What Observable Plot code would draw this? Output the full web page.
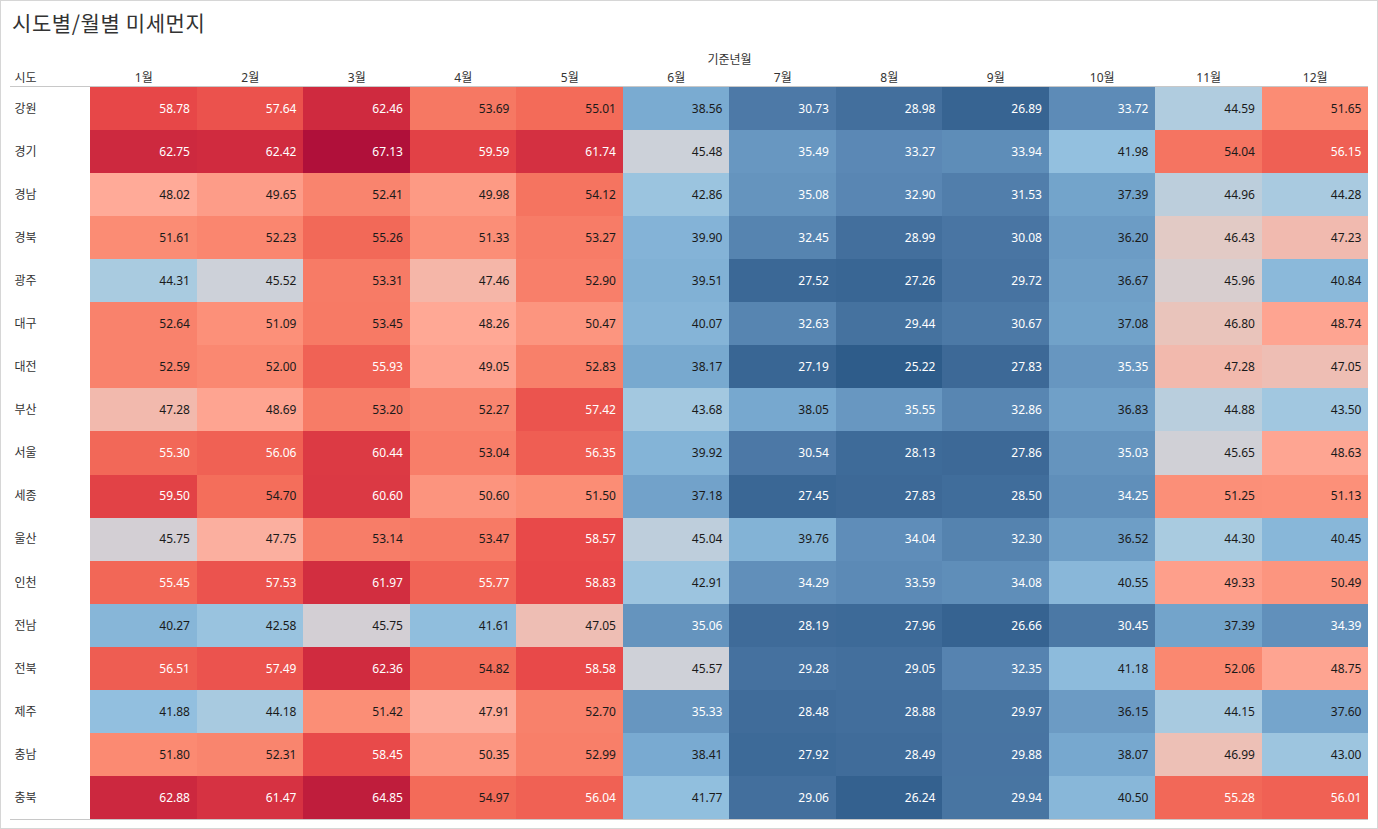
<!DOCTYPE html>
<html>
<head>
<meta charset="utf-8">
<script src="https://cdn.jsdelivr.net/npm/d3@7"></script>
<script src="https://cdn.jsdelivr.net/npm/@observablehq/plot@0.6"></script>
<style>
  html, body { margin: 0; padding: 0; background: #fff; }
  body { font-family: "Segoe UI", "Noto Sans", "Noto Sans CJK KR", sans-serif; }
  #wrap { position: relative; width: 1378px; height: 829px; overflow: hidden; }
  #border { position: absolute; left: 0; top: 0; width: 1376px; height: 827px; border: 1px solid #d6d6d6; pointer-events: none; }
  #title { position: absolute; left: 12px; top: 7px; font-size: 21px; letter-spacing: 0.6px; color: #333; font-family: "Noto Sans CJK KR", sans-serif; }
  #chart { position: absolute; left: 0; top: 0; }
  .hline { position: absolute; left: 10px; width: 1358px; height: 1px; background: #c8c8c8; }
</style>
</head>
<body>
<div id="wrap">
  <div id="title">시도별/월별 미세먼지</div>
  <div id="chart"></div>
  <div class="hline" style="top:86px"></div>
  <div class="hline" style="top:819px"></div>
  <div id="border"></div>
</div>
<script>
const regions = ["강원","경기","경남","경북","광주","대구","대전","부산","서울","세종","울산","인천","전남","전북","제주","충남","충북"];
const months = ["1월","2월","3월","4월","5월","6월","7월","8월","9월","10월","11월","12월"];

const gangwon   = [58.78, 57.64, 62.46, 53.69, 55.01, 38.56, 30.73, 28.98, 26.89, 33.72, 44.59, 51.65];
const gyeonggi  = [62.75, 62.42, 67.13, 59.59, 61.74, 45.48, 35.49, 33.27, 33.94, 41.98, 54.04, 56.15];
const gyeongnam = [48.02, 49.65, 52.41, 49.98, 54.12, 42.86, 35.08, 32.90, 31.53, 37.39, 44.96, 44.28];
const gyeongbuk = [51.61, 52.23, 55.26, 51.33, 53.27, 39.90, 32.45, 28.99, 30.08, 36.20, 46.43, 47.23];
const gwangju   = [44.31, 45.52, 53.31, 47.46, 52.90, 39.51, 27.52, 27.26, 29.72, 36.67, 45.96, 40.84];
const daegu     = [52.64, 51.09, 53.45, 48.26, 50.47, 40.07, 32.63, 29.44, 30.67, 37.08, 46.80, 48.74];
const daejeon   = [52.59, 52.00, 55.93, 49.05, 52.83, 38.17, 27.19, 25.22, 27.83, 35.35, 47.28, 47.05];
const busan     = [47.28, 48.69, 53.20, 52.27, 57.42, 43.68, 38.05, 35.55, 32.86, 36.83, 44.88, 43.50];
const seoul     = [55.30, 56.06, 60.44, 53.04, 56.35, 39.92, 30.54, 28.13, 27.86, 35.03, 45.65, 48.63];
const sejong    = [59.50, 54.70, 60.60, 50.60, 51.50, 37.18, 27.45, 27.83, 28.50, 34.25, 51.25, 51.13];
const ulsan     = [45.75, 47.75, 53.14, 53.47, 58.57, 45.04, 39.76, 34.04, 32.30, 36.52, 44.30, 40.45];
const incheon   = [55.45, 57.53, 61.97, 55.77, 58.83, 42.91, 34.29, 33.59, 34.08, 40.55, 49.33, 50.49];
const jeonnam   = [40.27, 42.58, 45.75, 41.61, 47.05, 35.06, 28.19, 27.96, 26.66, 30.45, 37.39, 34.39];
const jeonbuk   = [56.51, 57.49, 62.36, 54.82, 58.58, 45.57, 29.28, 29.05, 32.35, 41.18, 52.06, 48.75];
const jeju      = [41.88, 44.18, 51.42, 47.91, 52.70, 35.33, 28.48, 28.88, 29.97, 36.15, 44.15, 37.60];
const chungnam  = [51.80, 52.31, 58.45, 50.35, 52.99, 38.41, 27.92, 28.49, 29.88, 38.07, 46.99, 43.00];
const chungbuk  = [62.88, 61.47, 64.85, 54.97, 56.04, 41.77, 29.06, 26.24, 29.94, 40.50, 55.28, 56.01];

const series = [gangwon, gyeonggi, gyeongnam, gyeongbuk, gwangju, daegu, daejeon, busan, seoul, sejong, ulsan, incheon, jeonnam, jeonbuk, jeju, chungnam, chungbuk];

const data = [];
regions.forEach((r, i) => months.forEach((m, j) => data.push({region: r, month: m, value: series[i][j]})));

// diverging colour ramp (blue -> gray -> red)
const colorStops  = [25.2, 29.0, 33.7, 38.5, 42.0, 44.4, 45.5, 46.5, 48.0, 51.6, 55.0, 58.8, 62.5, 67.13];
const colorRange  = ["#2e5c8a","#436f9d","#5d8bb7","#7aabd1","#93c0df","#aacbe0","#cdd1d9","#e4cac4","#ffaa98","#fb8c74","#f36b59","#e74748","#cf2a3f","#b0103a"];

const W = 1378, H = 829, mL = 90, mR = 10, mT = 87, mB = 10;
const bw = (W - mL - mR) / months.length;

const plot = Plot.plot({
  width: W,
  height: H,
  marginLeft: mL,
  marginRight: mR,
  marginTop: mT,
  marginBottom: mB,
  style: {fontFamily: '"Segoe UI", "Noto Sans", "Noto Sans CJK KR", sans-serif', fontSize: "12px", color: "#333", background: "transparent"},
  x: {domain: months, padding: 0, round: false, axis: null},
  y: {domain: regions, padding: 0, round: false, axis: null},
  color: {type: "linear", domain: colorStops, range: colorRange, interpolate: "rgb"},
  marks: [
    Plot.cell(data, {x: "month", y: "region", fill: "value", inset: 0, shapeRendering: "crispEdges"}),
    Plot.text(data, {
      x: "month", y: "region",
      text: d => d.value.toFixed(2),
      textAnchor: "end",
      dx: bw / 2 - 7,
      fontSize: 12,
      fill: d => (d.value > 55.27 || d.value < 35.8) ? "#ffffff" : "#1a1a1a"
    }),
    Plot.axisX({anchor: "top", tickSize: 0, tickPadding: 6, label: null, fontSize: 12, fill: "#333"}),
    Plot.text(regions, {y: d => d, text: d => d, frameAnchor: "left", textAnchor: "start", dx: -76, fontSize: 12, fill: "#333"}),
    Plot.text(["시도"], {frameAnchor: "top-left", textAnchor: "start", lineAnchor: "bottom", dx: -76, dy: -6, fontSize: 12, fill: "#333"}),
    Plot.text(["기준년월"], {frameAnchor: "top", lineAnchor: "bottom", dy: -24, fontSize: 12, fill: "#333"})
  ]
});
document.getElementById("chart").appendChild(plot);
</script>
</body>
</html>
